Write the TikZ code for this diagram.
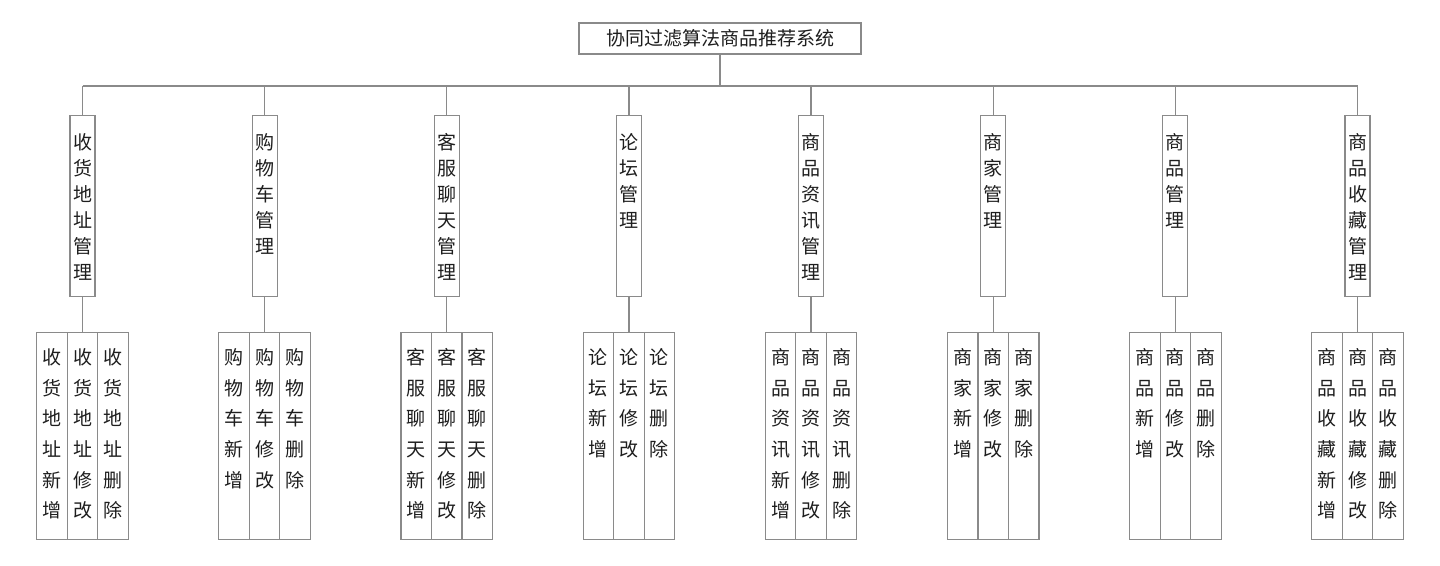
\documentclass[tikz,border=0pt]{standalone}
\usepackage{fontspec}
\setmainfont{Noto Sans CJK SC}
\definecolor{linec}{HTML}{8A8A8A}
\definecolor{txtc}{HTML}{1E1E1E}
\ExplSyntaxOn
\NewDocumentCommand\vchars{m}{
  \tl_set:Ne \l_tmpa_tl {#1}
  \seq_clear:N \l_tmpa_seq
  \tl_map_inline:Nn \l_tmpa_tl { \seq_put_right:Nn \l_tmpa_seq {##1} }
  \seq_use:Nn \l_tmpa_seq {\\}
}
\ExplSyntaxOff
\newcommand\modtext[1]{\parbox[t][181pt][t]{25pt}{\centering\fontsize{19pt}{26pt}\selectfont\rule{0pt}{34pt}\vchars{#1}}}
\newcommand\leaftext[1]{\parbox[t][207pt][t]{30.5pt}{\centering\fontsize{19pt}{30.6pt}\selectfont\rule{0pt}{32pt}\vchars{#1}}}
\tikzset{
  conn/.style={draw=linec, line width=1.2pt},
  titlebox/.style={draw=linec, line width=1.2pt, minimum width=282pt, minimum height=31pt, inner sep=0pt, text=txtc, font=\fontsize{19pt}{22pt}\selectfont},
  modbox/.style={draw=linec, line width=1.2pt, minimum width=25pt, minimum height=181pt, inner sep=0pt, anchor=north, text=txtc},
  leafbox/.style={draw=linec, line width=1.2pt, minimum width=30.5pt, minimum height=207pt, inner sep=0pt, anchor=north, text=txtc}
}
\begin{document}
\begin{tikzpicture}[x=1pt,y=-1pt]
\useasboundingbox[fill=white] (0,0) rectangle (1440,565);
\node[titlebox] (root) at (720,38.5) {协同过滤算法商品推荐系统};
\coordinate (busL) at (82.5,86);
\coordinate (busR) at (1357.5,86);
\coordinate (busM) at (720,86);
\draw[conn] (busL) -- (busR);
\draw[conn] (root.south) -- (busM);
\foreach \i/\modname/\leafname in {0/收货地址管理/收货地址,1/购物车管理/购物车,2/客服聊天管理/客服聊天,3/论坛管理/论坛,4/商品资讯管理/商品资讯,5/商家管理/商家,6/商品管理/商品,7/商品收藏管理/商品收藏}{
  \pgfmathsetmacro\cx{82.5+182.143*\i}
  \coordinate (b\i) at (\cx,86);
  \node[modbox] (m\i) at (\cx,115) {\modtext{\modname}};
  \node[leafbox] (la\i) at (\cx-30.5,332) {\leaftext{\leafname 新增}};
  \node[leafbox] (lb\i) at (\cx,332) {\leaftext{\leafname 修改}};
  \node[leafbox] (lc\i) at (\cx+30.5,332) {\leaftext{\leafname 删除}};
  \draw[conn] (b\i) -- (m\i.north);
  \draw[conn] (m\i.south) -- (lb\i.north);
}
\end{tikzpicture}
\end{document}
